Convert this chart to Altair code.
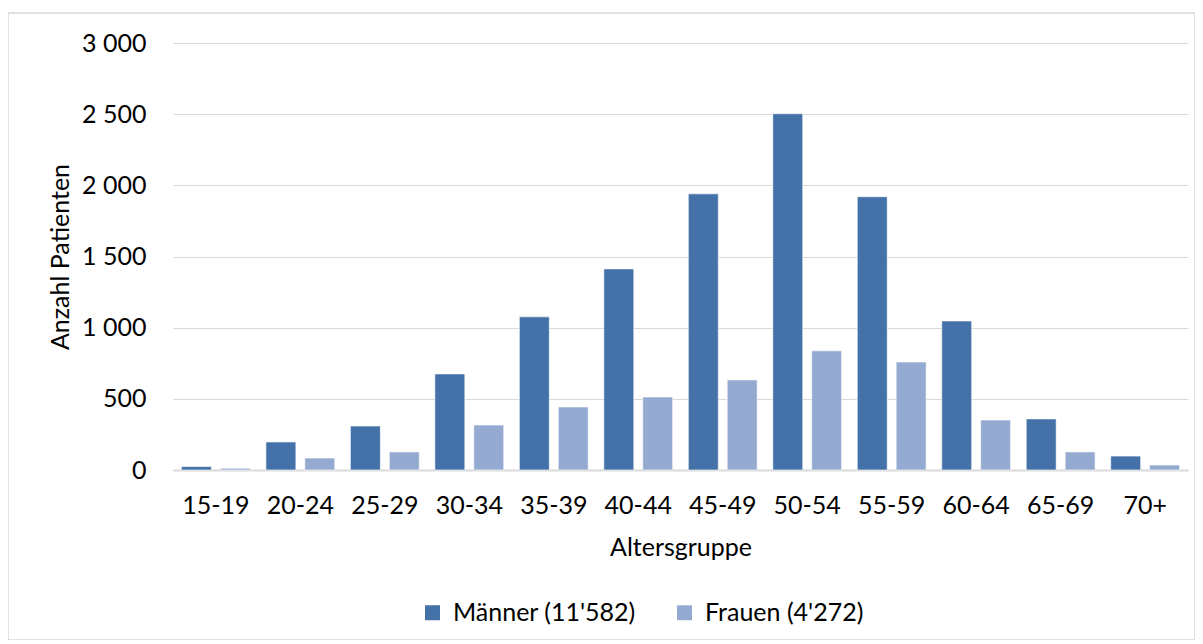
import altair as alt
import pandas as pd

groups = ["15-19", "20-24", "25-29", "30-34", "35-39", "40-44", "45-49",
          "50-54", "55-59", "60-64", "65-69", "70+"]
maenner = [24, 197, 309, 675, 1076, 1413, 1940, 2503, 1920, 1047, 359, 98]
frauen = [12, 84, 127, 316, 443, 513, 633, 837, 759, 351, 127, 35]
series = ["Männer (11'582)", "Frauen (4'272)"]
colors = ["#4472A8", "#95AAD1"]

rows = []
for g, m, f in zip(groups, maenner, frauen):
    rows.append({"Altersgruppe": g, "Serie": series[0], "Wert": m})
    rows.append({"Altersgruppe": g, "Serie": series[1], "Wert": f})
df = pd.DataFrame(rows)

FONT = "Lato"
FS = 25
W, H = 1015, 427

bars = alt.Chart(df).mark_bar(stroke="white", strokeWidth=1, strokeOpacity=0.6).encode(
    x=alt.X("Altersgruppe:N", sort=groups,
            scale=alt.Scale(paddingInner=0.185, paddingOuter=0.1),
            axis=alt.Axis(title="Altersgruppe", labelAngle=0, ticks=False,
                          domainColor="#d9d9d9", domainWidth=2,
                          labelPadding=23, titlePadding=17)),
    xOffset=alt.XOffset("Serie:N", sort=series,
                        scale=alt.Scale(paddingInner=0.23)),
    y=alt.Y("Wert:Q", scale=alt.Scale(domain=[0, 3000], nice=False),
            axis=alt.Axis(title="Anzahl Patienten", values=[0, 500, 1000, 1500, 2000, 2500, 3000],
                          domain=False, ticks=False, gridColor="#d9d9d9",
                          labelPadding=27, titlePadding=8,
                          labelExpr="replace(format(datum.value, ','), ',', ' ')")),
    color=alt.Color("Serie:N", sort=series,
                    scale=alt.Scale(domain=series, range=colors),
                    legend=alt.Legend(title=None, orient="none", direction="horizontal",
                                      legendX=247, legendY=557, symbolType="square",
                                      symbolSize=225, symbolStrokeWidth=0,
                                      labelOffset=8, columnPadding=36, labelLimit=0)),
)

border = alt.Chart(pd.DataFrame({"a": [0]})).mark_rect(
    fill=None, stroke="#d9d9d9", strokeWidth=1.5
).encode(
    x=alt.value(-165), x2=alt.value(1022), y=alt.value(-30), y2=alt.value(597)
)

chart = alt.layer(border, bars).properties(
    width=W, height=H,
    autosize=alt.AutoSizeParams(type="none"),
    padding={"left": 165, "top": 35, "right": 7, "bottom": 170},
).configure(font=FONT).configure_view(stroke=None).configure_axis(
    labelFont=FONT, titleFont=FONT, labelFontSize=FS, titleFontSize=FS,
    labelColor="#000000", titleColor="#000000", titleFontWeight="normal",
).configure_legend(
    labelFont=FONT, labelFontSize=FS, labelColor="#000000",
)

chart.save("out.html", embed_options={"renderer": "svg", "actions": False})
